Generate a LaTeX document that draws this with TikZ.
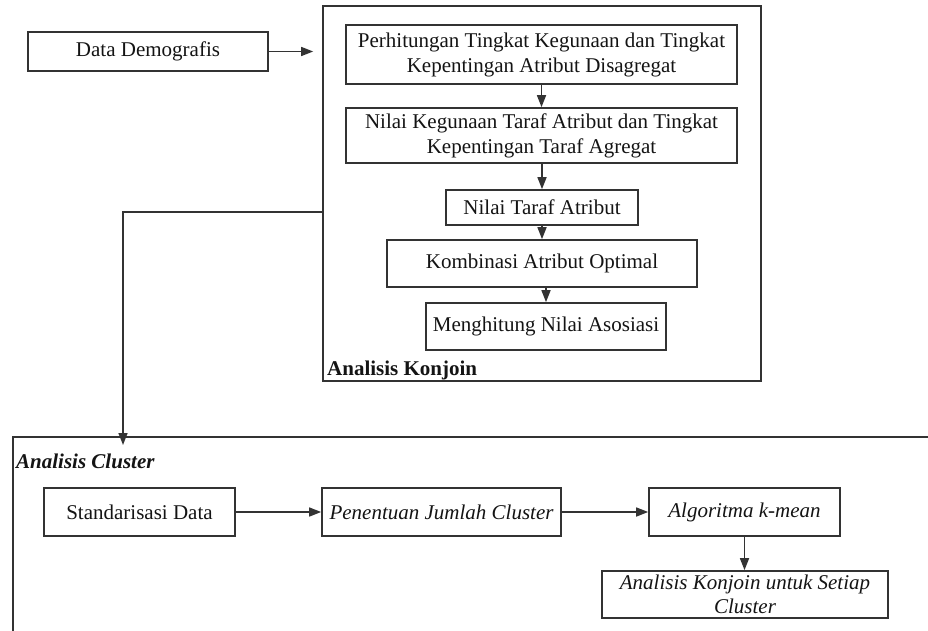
\documentclass[tikz,border=0pt]{standalone}
\usepackage{fontspec}
\setmainfont{Liberation Serif}
\usetikzlibrary{arrows.meta,calc}
\definecolor{ln}{HTML}{333333}
\definecolor{tx}{HTML}{141414}
\tikzset{
  box/.style={draw=ln, line width=1.7pt, inner sep=0pt, align=center, text=tx,
    font=\fontsize{21}{25}\selectfont},
  lbl/.style={inner sep=0pt, text=tx, font=\fontsize{21}{25}\selectfont},
  arr/.style={draw=ln, line width=1.6pt, -{Triangle[length=12pt,width=9pt]}},
  ln/.style={draw=ln, line width=1.7pt}
}
\begin{document}
\begin{tikzpicture}[x=1pt,y=-1pt]
\useasboundingbox[fill=white] (0,0) rectangle (928,631);
% Konjoin container
\node[box, minimum width=438pt, minimum height=375pt] (konjoin) at (542,193.5) {};
\node[lbl, anchor=base west, font=\fontsize{21}{25}\selectfont\bfseries] (konjoinlbl) at (327,375) {Analisis Konjoin};
% Data
\node[box, minimum width=240pt, minimum height=39pt] (data) at (148,51.5) {Data Demografis};
% inner boxes
\node[box, minimum width=391pt, minimum height=59pt] (b1) at (541.5,54.5) {Perhitungan Tingkat Kegunaan dan Tingkat\\Kepentingan Atribut Disagregat};
\node[box, minimum width=391pt, minimum height=55pt] (b2) at (541.5,135.5) {Nilai Kegunaan Taraf Atribut dan Tingkat\\Kepentingan Taraf Agregat};
\node[box, minimum width=192pt, minimum height=35pt] (b3) at (542,207.5) {Nilai Taraf Atribut};
\node[box, minimum width=310pt, minimum height=47pt] (b4) at (542,263.5) {Kombinasi Atribut Optimal};
\node[box, minimum width=240pt, minimum height=47pt] (b5) at (546,326.5) {Menghitung Nilai Asosiasi};
% Cluster container (cut by the picture edge)
\draw[ln] (930,437) -- (13,437) -- (13,640);
\coordinate (cltop) at (123,437);
\node[lbl, anchor=base west, font=\fontsize{21}{25}\selectfont\bfseries\itshape] (cllbl) at (16,468) {Analisis Cluster};
\node[box, minimum width=191pt, minimum height=48pt] (c1) at (139.5,512) {Standarisasi Data};
\node[box, minimum width=239pt, minimum height=48pt, font=\fontsize{21}{25}\selectfont\itshape] (c2) at (441.5,512) {Penentuan Jumlah Cluster};
\node[box, minimum width=191pt, minimum height=48pt, font=\fontsize{21}{25}\selectfont\itshape] (c3) at (744.5,512) {Algoritma k-mean};
\node[box, minimum width=286pt, minimum height=47pt, font=\fontsize{21}{24}\selectfont\itshape] (c4) at (745,594.5) {Analisis Konjoin untuk Setiap\\Cluster};
% connectors
\draw[arr] (data.east) -- ([xshift=-9pt]konjoin.west |- data.east);
\draw[arr] (b1.south) -- (b2.north);
\draw[arr] (b2.south -| b3.north) -- (b3.north);
\draw[arr] (b3.south) -- (b4.north);
\draw[arr] (b4.south -| b5.north) -- (b5.north);
\draw[arr] (konjoin.west |- 0,212) -| ([yshift=-8pt]cltop);
\draw[arr] (c1.east) -- (c2.west);
\draw[arr] (c2.east) -- (c3.west);
\draw[arr] (c3.south) -- (c3.south |- c4.north);
\end{tikzpicture}
\end{document}
